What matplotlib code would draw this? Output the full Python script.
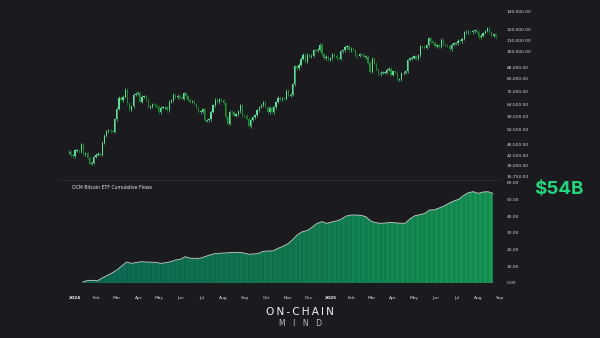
import numpy as np
import pandas as pd
import matplotlib
matplotlib.use("Agg")
import matplotlib.pyplot as plt
import matplotlib.dates as mdates
from matplotlib.colors import LinearSegmentedColormap

# ---------------- data ----------------
price_start = "2023-12-23"          # closes every 3 days (USD thousands)
price_closes = [
    43.7, 42.5, 42.1, 44.2, 44.2, 43.9, 46.6, 42.8, 43.1, 41.6, 39.5, 40.0, 42.0, 42.6,
    43.0, 42.7, 47.1, 50.0, 51.9, 52.1, 51.9, 51.6, 57.1, 62.4, 68.3, 67.0, 69.0, 73.1,
    65.3, 61.9, 63.8, 70.0, 70.7, 71.3, 66.0, 69.0, 69.1, 67.2, 63.4, 63.5, 64.9, 64.3,
    63.4, 60.6, 62.9, 63.2, 63.2, 61.5, 66.2, 67.0, 70.1, 68.5, 69.4, 68.4, 67.8, 71.1,
    69.3, 67.3, 66.0, 66.5, 64.9, 63.2, 60.8, 60.9, 62.1, 56.7, 56.7, 57.3, 60.8, 64.1,
    67.2, 65.9, 67.6, 66.8, 65.3, 58.1, 55.1, 60.9, 60.6, 58.9, 59.5, 61.2, 64.2, 59.0,
    58.9, 57.5, 53.9, 57.0, 58.1, 59.1, 61.7, 63.3, 64.3, 65.9, 63.3, 60.7, 63.0, 60.6,
    63.2, 66.0, 68.4, 67.4, 68.2, 67.9, 72.3, 69.5, 70.1, 76.5, 88.7, 87.3, 89.8, 94.3,
    97.7, 91.9, 97.4, 95.9, 96.9, 101.2, 101.1, 101.4, 106.0, 97.8, 94.7, 95.8, 93.7,
    94.6, 98.1, 96.9, 94.7, 94.5, 100.5, 101.1, 103.7, 104.7, 101.3, 102.4, 101.4, 96.6,
    96.5, 97.9, 97.5, 95.8, 96.1, 91.4, 84.7, 94.3, 90.6, 86.1, 82.9, 84.0, 84.1, 84.2,
    86.1, 86.9, 82.6, 85.2, 83.9, 79.2, 79.6, 83.7, 84.0, 85.1, 93.4, 94.7, 95.0, 96.5,
    94.3, 97.0, 104.6, 104.2, 103.5, 105.6, 111.7, 109.0, 107.8, 104.6, 105.4, 104.3,
    110.3, 105.7, 105.5, 104.9, 102.2, 106.0, 107.1, 107.1, 109.6, 109.2, 111.3, 117.5,
    117.8, 117.9, 117.4, 118.4, 119.4, 117.8, 112.5, 114.1, 116.7, 118.7, 121.5, 117.5,
    114.3, 115.3, 112.8,
]

flow_start = "2024-01-12"           # weekly cumulative flows ($B)
flows = [
    0.6, 1.5, 1.6, 1.3, 3.0, 4.5, 6.0, 7.8, 10.2, 12.6, 11.8, 12.3, 12.8, 12.6, 12.5,
    12.4, 11.8, 12.2, 12.8, 13.8, 14.2, 15.8, 14.9, 14.8, 14.8, 15.8, 16.8, 17.6, 17.8,
    18.0, 18.2, 18.3, 18.4, 18.0, 17.3, 17.4, 17.8, 19.0, 19.2, 19.3, 20.8, 22.0, 23.5,
    26.0, 29.0, 30.8, 31.5, 33.5, 35.8, 36.8, 35.8, 36.6, 37.2, 38.4, 40.2, 40.8, 40.8,
    40.6, 39.8, 37.2, 36.2, 35.8, 36.0, 36.4, 36.1, 35.9, 35.8, 38.4, 40.3, 41.0, 41.6,
    43.8, 43.9, 45.0, 46.2, 47.8, 49.2, 50.2, 52.5, 54.2, 54.8, 53.8, 54.6, 54.8, 53.8,
]

price_ticks = [35750, 39000, 42500, 46500, 52500, 58500, 64500, 72000, 80000, 88000,
               100000, 110000, 120000, 140000]
flow_ticks = [0, 10, 20, 30, 40, 50, 60]
month_labels = ["2024", "Feb", "Mar", "Apr", "May", "Jun", "Jul", "Aug", "Sep", "Oct",
                "Nov", "Dec", "2025", "Feb", "Mar", "Apr", "May", "Jun", "Jul", "Aug", "Sep"]
headline = "$54B"
panel_title = "OCM Bitcoin ETF Cumulative Flows"

# ---------------- style ----------------
BG = "#1b1b1f"
TXT = "#d6d6d6"
UP = "#5fe09a"
DOWN = "#1f8a34"

W, H = 600, 338
fig = plt.figure(figsize=(W / 100, H / 100), dpi=100, facecolor=BG)

def px_axes(x0, y0, x1, y1):
    return fig.add_axes([x0 / W, 1 - y1 / H, (x1 - x0) / W, (y1 - y0) / H])

ax1 = px_axes(60, 3, 500, 179)
ax2 = px_axes(60, 180, 500, 288)

origin = pd.Timestamp("2024-01-01")
xl0 = mdates.date2num(origin - pd.Timedelta(days=21.5))
xl1 = mdates.date2num(origin + pd.Timedelta(days=609.3))

for ax in (ax1, ax2):
    ax.set_facecolor(BG)
    for s in ax.spines.values():
        s.set_visible(False)

# ---- price candles ----
pdates = pd.date_range(price_start, periods=len(price_closes), freq="3D")
px = mdates.date2num(pdates)
closes = np.array(price_closes) * 1000
opens = np.concatenate([[closes[0]], closes[:-1]])
for x, o, c in zip(px, opens, closes):
    col = UP if c >= o else DOWN
    lo, hi = min(o, c), max(o, c)
    if hi / lo < 1.004:
        lo, hi = lo * 0.998, hi * 1.002
    ax1.bar(x, hi - lo, bottom=lo, width=1.8, color=col, linewidth=0)
    ax1.vlines(x, lo * 0.988, hi * 1.012, color=col, linewidth=0.45)

ax1.set_yscale("log")
ax1.set_ylim(34900, 149600)
ax1.set_yticks(price_ticks)
ax1.set_yticklabels([f"{t:,.2f}" for t in price_ticks])
ax1.minorticks_off()
ax1.yaxis.tick_right()
ax1.tick_params(axis="y", length=0, pad=5, labelsize=3.2, labelcolor=TXT)
ax1.tick_params(axis="x", bottom=False, labelbottom=False)

# ---- cumulative flows ----
fdates = pd.date_range(flow_start, periods=len(flows), freq="7D")
fx = mdates.date2num(fdates)
fv = np.array(flows)
cmap = LinearSegmentedColormap.from_list("g", ["#0d6854", "#11794f", "#179656"])
poly = ax2.fill_between(fx, 0, fv, color="none", linewidth=0)
grad = np.linspace(0, 1, 256).reshape(1, -1)
im = ax2.imshow(grad, extent=[fx[0], fx[-1], 0, fv.max()], aspect="auto",
                cmap=cmap, origin="lower", interpolation="bilinear")
im.set_clip_path(poly.get_paths()[0], transform=ax2.transData)
ax2.vlines(fx[1:-1], 0, fv[1:-1], color="#0b3a2c", linewidth=0.3, alpha=0.7)
ax2.plot(fx, fv, color="#c9c9c9", linewidth=0.6)

ax2.set_ylim(-3, 61.8)
ax2.set_yticks(flow_ticks)
ax2.set_yticklabels([f"{t:.2f}" for t in flow_ticks])
ax2.yaxis.tick_right()
ax2.tick_params(axis="y", length=0, pad=5, labelsize=3.2, labelcolor=TXT)
ax2.axhline(61.8, color="#2c2c31", linewidth=0.6)

mticks = pd.date_range("2024-01-01", periods=len(month_labels), freq="MS")
ax2.set_xticks(mdates.date2num(mticks))
ax2.set_xticklabels(month_labels)
ax2.tick_params(axis="x", length=0, pad=6, labelsize=3.2, labelcolor=TXT)
for lab in ax2.get_xticklabels():
    if lab.get_text().isdigit():
        lab.set_fontweight("bold")
        lab.set_color("#f0f0f0")

for ax in (ax1, ax2):
    ax.set_xlim(xl0, xl1)

ax2.text(0.027, 0.955, panel_title, transform=ax2.transAxes, fontsize=3.3,
         color="#e8e8e8", va="top", ha="left")

fig.text(559 / W, 1 - 189 / H, headline, fontsize=13.5, fontweight="bold",
         color="#22d47c", ha="center", va="center", family="Inter")

fig.text(300 / W, 1 - 312 / H, "O\u2009N\u2009-\u2009C\u2009H\u2009A\u2009I\u2009N",
         fontsize=7.6, color="#f2f2f2", ha="center", va="center", family="DejaVu Sans")
fig.text(301 / W, 1 - 324 / H, "M   I   N   D", fontsize=5.6, color="#bdbdbd",
         ha="center", va="center", family="DejaVu Sans")

fig.savefig("out.png", dpi=100, facecolor=BG)
